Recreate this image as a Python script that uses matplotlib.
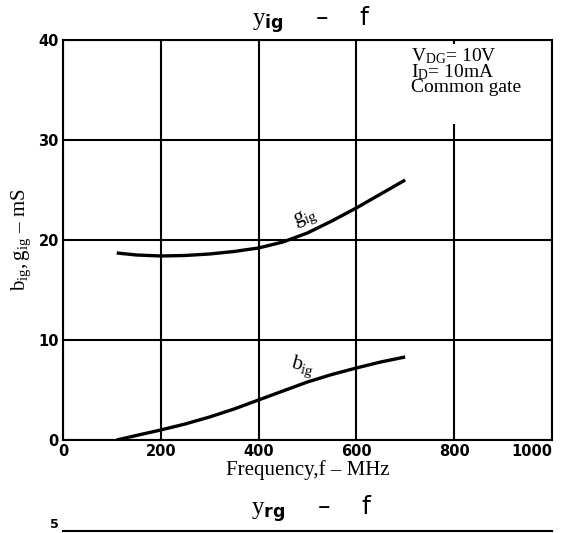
import matplotlib
matplotlib.use("Agg")
import matplotlib.pyplot as plt

plt.rcParams["mathtext.fontset"] = "custom"
plt.rcParams["mathtext.rm"] = "Liberation Serif"
plt.rcParams["mathtext.it"] = "Liberation Serif:italic"
plt.rcParams["mathtext.bf"] = "DejaVu Sans:bold"

# values
freq = [110, 150, 200, 250, 300, 350, 400, 450, 500, 550, 600, 650, 700]
g_ig = [18.7, 18.5, 18.4, 18.45, 18.6, 18.85, 19.2, 19.8, 20.7, 21.9, 23.2, 24.6, 26.0]
b_ig = [0.0, 0.45, 1.0, 1.6, 2.3, 3.1, 4.0, 4.9, 5.8, 6.55, 7.2, 7.8, 8.3]

xticks = [0, 200, 400, 600, 800, 1000]
xtick_labels = ["0", "200", "400", "600", "800", "1000"]
yticks = [0, 10, 20, 30, 40]

serif = ["Liberation Serif", "DejaVu Serif"]

fig = plt.figure(figsize=(5.62, 5.33), dpi=100)
ax = fig.add_axes([0.112, 0.1745, 0.870, 0.7505])

ax.plot(freq, g_ig, color="black", lw=2.4, solid_capstyle="butt", zorder=3)
ax.plot(freq, b_ig, color="black", lw=2.4, solid_capstyle="butt", zorder=3)

ax.set_xlim(0, 1000)
ax.set_ylim(0, 40)
ax.set_xticks(xticks)
ax.set_xticklabels(xtick_labels)
ax.set_yticks(yticks)
ax.tick_params(length=0, pad=3, labelsize=10.5)
for lab in ax.get_xticklabels() + ax.get_yticklabels():
    lab.set_fontweight("bold")
ax.get_xticklabels()[-1].set_horizontalalignment("right")
ax.grid(True, color="black", lw=1.5)
for s in ax.spines.values():
    s.set_linewidth(1.5)

ax.set_xlabel("Frequency,f – MHz", family=serif, fontsize=15, labelpad=1)
ax.set_ylabel(r"$\mathrm{b_{ig}, g_{ig}}$ – mS", family=serif, fontsize=15, labelpad=4)

ax.text(497, 22.2, r"$\mathrm{g_{ig}}$", family=serif, fontsize=15, rotation=20,
        ha="center", va="center")
ax.text(490, 7.3, r"$\mathrm{b_{ig}}$", family=serif, fontsize=15, rotation=-15,
        ha="center", va="center")

# conditions, white behind them so the 800 grid line stops under the text
ax.axvspan(705, 990, ymin=0.79, ymax=0.99, facecolor="white", edgecolor="none", zorder=2.5)
ax.text(712, 39.4, "V$_\\mathrm{DG}$= 10V\nI$_\\mathrm{D}$= 10mA\nCommon gate",
        family=serif, fontsize=14, ha="left", va="top", linespacing=0.78, zorder=4)

fig.text(0.555, 0.962, r"$\mathrm{y}_{\mathbf{ig}}$    –    f", fontsize=18,
         ha="center", va="center")
fig.text(0.555, 0.045, r"$\mathrm{y}_{\mathbf{rg}}$    –    f", fontsize=18,
         ha="center", va="center")

# top of the next chart, cut off by the page edge
ax2 = fig.add_axes([0.112, -0.2, 0.870, 0.2037])
ax2.set_xlim(0, 1000)
ax2.set_ylim(0, 5)
ax2.set_yticks([5])
ax2.set_xticks([])
ax2.tick_params(length=0, pad=3, labelsize=9)
for lab in ax2.get_yticklabels():
    lab.set_fontweight("bold")
    lab.set_verticalalignment("bottom")
for k, s in ax2.spines.items():
    s.set_visible(k == "top")
    s.set_linewidth(1.5)

fig.savefig("out.png", dpi=100)
